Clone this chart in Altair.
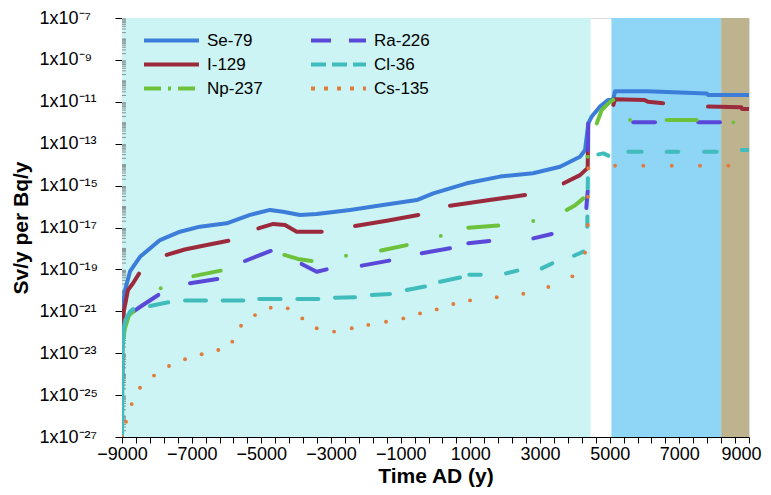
import altair as alt
import pandas as pd

# ---------------- data ----------------
SERIES = ["Se-79", "I-129", "Np-237", "Ra-226", "Cl-36", "Cs-135"]  # legend order (column-major, 2 columns)
COLORS = ["#3b7dd8", "#9b2a3c", "#6cc23a", "#5a48d8", "#41bcbc", "#e07b3c"]
DASHES = [[1, 0], [1, 0], [17, 7, 3, 7], [20, 18], [15, 6], [4, 9]]
DRAW_ORDER = ["Se-79", "I-129", "Ra-226", "Np-237", "Cl-36"]

# (year AD, log10 dose factor) segments
se79 = [[(-9000, -23.0), (-8995, -22.0), (-8990, -21.0), (-8914, -20.0), (-8770, -19.1), (-8483, -18.4),
         (-7909, -17.6), (-7335, -17.2), (-6761, -16.96), (-5994, -16.8), (-5325, -16.4), (-4751, -16.16),
         (-4378, -16.25), (-3890, -16.4), (-3410, -16.36), (-2452, -16.16), (-1507, -15.93), (-539, -15.69),
         (-63, -15.37), (896, -14.89), (1852, -14.57), (2800, -14.41), (3575, -14.1), (4149, -13.62),
         (4293, -13.3), (4388, -12.03), (4485, -11.7), (4723, -11.23), (4953, -10.91), (5097, -10.9),
         (5154, -10.5), (6064, -10.5), (7787, -10.6), (7824, -10.67), (9000, -10.67)]]

i129 = [[(-9000, -25.6), (-8990, -22.5), (-8960, -21.1), (-8828, -19.98), (-8684, -19.66), (-8511, -19.2)],
        [(-7717, -18.31), (-7200, -18.05), (-6600, -17.85), (-5948, -17.63)],
        [(-5087, -17.04), (-4656, -16.83), (-4320, -16.88), (-3984, -17.2), (-3267, -17.2)],
        [(-2310, -16.93), (-1400, -16.68), (-493, -16.4)],
        [(417, -15.96), (1500, -15.7), (2570, -15.45)],
        [(3680, -14.89), (4149, -14.5), (4340, -14.2), (4370, -14.17), (4375, -13.1)],
        [(5106, -11.15), (5154, -10.88), (6000, -10.91), (6100, -11.0), (6536, -11.07)],
        [(7824, -11.23), (8780, -11.26), (8800, -11.34), (9000, -11.34)]]

ra226 = [[(-9000, -26.3), (-8996, -25.5)],
         [(-8992, -24.1), (-8988, -23.5)],
         [(-8676, -21.02), (-8400, -20.7), (-7958, -20.22)],
         [(-7048, -19.66), (-6264, -19.46)],
         [(-5469, -18.6), (-5100, -18.35), (-4731, -18.12)],
         [(-3844, -18.74), (-3410, -19.11), (-3124, -19.0)],
         [(-2118, -18.82), (-1326, -18.58)],
         [(-396, -18.23), (417, -17.99)],
         [(942, -17.75), (1545, -17.64)],
         [(2808, -17.52), (3336, -17.31)],
         [(4330, -16.07), (4370, -15.25)],
         [(4378, -13.3), (4385, -12.03)],
         [(5678, -11.98), (6302, -11.98)],
         [(7546, -11.98), (8167, -11.98)]]

np237 = [[(-8960, -22.3), (-8914, -21.8), (-8800, -21.2), (-8676, -21.0)],
         [(-6953, -19.32), (-6166, -19.06)],
         [(-4340, -18.31), (-3950, -18.5), (-3557, -18.6)],
         [(-1564, -18.1), (-826, -17.84)],
         [(942, -17.01), (1803, -16.91)],
         [(3767, -16.16), (4000, -15.95), (4244, -15.61)],
         [(4629, -12.03), (4772, -11.39), (5010, -11.0), (5106, -10.91)],
         [(6637, -11.87), (7498, -11.87)]]
np237_dots = [(-7889, -19.9), (-2569, -18.35), (150, -17.4), (2808, -16.69),
              (4370, -13.62), (5585, -11.87), (8550, -11.98)]

cl36 = [[(-9000, -27.0), (-8985, -22.8), (-8950, -21.8), (-8900, -21.4), (-8760, -21.0), (-8680, -20.9)],
        [(-8196, -20.75), (-7671, -20.57)],
        [(-7191, -20.49), (-6588, -20.49)],
        [(-6109, -20.49), (-5518, -20.49)],
        [(-5061, -20.41), (-4447, -20.41)],
        [(-3967, -20.41), (-3364, -20.41)],
        [(-2885, -20.35), (-2310, -20.33)],
        [(-1831, -20.22), (-1306, -20.17)],
        [(-826, -19.98), (-301, -19.82)],
        [(130, -19.59), (704, -19.39)],
        [(971, -19.25), (1298, -19.25)],
        [(2025, -19.19), (2350, -19.06)],
        [(3049, -18.95), (3353, -18.71)],
        [(3977, -18.35), (4244, -18.15)],
        [(4355, -16.96), (4360, -16.48)],
        [(4370, -15.13), (4375, -14.65)],
        [(4675, -13.51), (4818, -13.46), (4962, -13.57)],
        [(5536, -13.38), (5921, -13.38)],
        [(6637, -13.38), (6970, -13.38)],
        [(7709, -13.38), (8073, -13.38)],
        [(8791, -13.3), (9000, -13.3)]]

cs135_dots = [(-9000, -27.0), (-8885, -26.27), (-8722, -25.43), (-8483, -24.65), (-8081, -24.07),
              (-7651, -23.61), (-7191, -23.29), (-6712, -23.05), (-6235, -22.85), (-5833, -22.45),
              (-5583, -21.69), (-5182, -21.18), (-4731, -20.83), (-4243, -20.86), (-3824, -21.34),
              (-3410, -21.81), (-2913, -21.97), (-2405, -21.81), (-1929, -21.65), (-1421, -21.5),
              (-924, -21.34), (-444, -21.1), (35, -20.91), (512, -20.65), (991, -20.48),
              (1758, -20.33), (2521, -20.16), (3239, -19.84), (3928, -19.33), (4293, -18.2),
              (4370, -16.88), (4375, -15.53), (4388, -14.17), (5154, -14.05), (5966, -14.05),
              (6782, -14.05), (7594, -14.05), (8407, -14.05)]

# background periods
band_start = [-9000, 5050, 8200]
band_end = [4450, 8200, 9000]
band_color = ["#cdf4f4", "#8fd5f5", "#bdb38f"]

# axis ticks
x_tick_step = 400
x_label_step = 2000
y_label_exps = [-7, -9, -11, -13, -15, -17, -19, -21, -23, -25, -27]
y_label_text = ["1x10⁻⁷", "1x10⁻⁹", "1x10⁻¹¹", "1x10⁻¹³", "1x10⁻¹⁵", "1x10⁻¹⁷",
                "1x10⁻¹⁹", "1x10⁻²¹", "1x10⁻²³", "1x10⁻²⁵", "1x10⁻²⁷"]
y_minor_mult = [2, 3, 4, 5, 6, 7, 8, 9, 10, 20, 30, 40, 50, 60, 70, 80, 90]

# ---------------- build tables ----------------
line_src = {"Se-79": se79, "I-129": i129, "Ra-226": ra226, "Np-237": np237, "Cl-36": cl36}
rows = []
for rank, name in enumerate(DRAW_ORDER):
    for si, seg in enumerate(line_src[name]):
        for pi, (t, e) in enumerate(seg):
            rows.append({"series": name, "key": f"{rank}_{name}_{si}", "t": t, "v": 10.0 ** e,
                         "idx": pi, "rank": rank})
lines_df = pd.DataFrame(rows)

dot_rows = [{"series": "Np-237", "t": t, "v": 10.0 ** e} for t, e in np237_dots]
dot_rows += [{"series": "Cs-135", "t": t, "v": 10.0 ** e} for t, e in cs135_dots]
dots_df = pd.DataFrame(dot_rows)

bands_df = pd.DataFrame({"start": band_start, "end": band_end, "color": band_color})

minor_df = pd.DataFrame({"v": [k * 10.0 ** e for e in y_label_exps[1:] for k in y_minor_mult]})

W, H = 627, 419
FONT = "Liberation Sans"

xvals = list(range(-9000, 9001, x_tick_step))
yvals = [10.0 ** e for e in y_label_exps]
label_expr = "''"
for e, txt in zip(y_label_exps, y_label_text):
    label_expr = f"round(log(datum.value)/LN10) == {e} ? '{txt}' : ({label_expr})"

x_enc = alt.X("t:Q", scale=alt.Scale(domain=[-9000, 9000], nice=False, zero=False),
              axis=alt.Axis(values=xvals, tickCount=200,
                            labelExpr=f"(datum.value + 9000) % {x_label_step} == 0 ? format(datum.value, 'd') : ''",
                            labelOffset={"condition": {"test": "datum.value == 9000", "value": -8}, "value": 0},
                            title="Time AD (y)", grid=False, tickSize=6, tickColor="black", domainColor="black",
                            labelFont=FONT, labelFontSize=18, labelColor="black", labelPadding=2,
                            labelOverlap=False, labelFlush=False,
                            titleFont=FONT, titleFontSize=21, titleFontWeight="bold", titleColor="black",
                            titlePadding=2))
y_enc = alt.Y("v:Q", scale=alt.Scale(type="log", domain=[1e-27, 1e-7], nice=False),
              axis=alt.Axis(values=yvals, tickCount=200, labelExpr=label_expr, title="Sv/y per Bq/y", grid=False,
                            tickSize=7, tickColor="black", domainColor="black",
                            labelFont=FONT, labelFontSize=18, labelColor="black", labelAlign="left",
                            labelPadding=76, labelOverlap=False, labelFlush=False,
                            titleFont=FONT, titleFontSize=21, titleFontWeight="bold", titleColor="black",
                            titlePadding=8))

color_scale = alt.Scale(domain=SERIES, range=COLORS)

legend_cfg = dict(title=None, orient="none", legendX=20, legendY=14, columns=2, symbolType="stroke",
                  symbolSize=3025, symbolStrokeWidth=4, labelFont=FONT, labelFontSize=17,
                  labelColor="black", labelOffset=6, clipHeight=17, rowPadding=6, columnPadding=46)

bands = alt.Chart(bands_df).mark_rect().encode(
    x=alt.X("start:Q", scale=alt.Scale(domain=[-9000, 9000], nice=False)),
    x2="end:Q",
    y=alt.value(0), y2=alt.value(H),
    color=alt.Color("color:N", scale=None),
)

legend_layer = alt.Chart(lines_df).transform_filter("false").mark_line(strokeWidth=4).encode(
    x=x_enc, y=y_enc,
    color=alt.Color("series:N", scale=color_scale, legend=alt.Legend(**legend_cfg)),
    strokeDash=alt.StrokeDash("series:N", scale=alt.Scale(domain=SERIES, range=DASHES),
                              legend=alt.Legend(**legend_cfg)),
)

minor_ticks = alt.Chart(minor_df).mark_rule(color="#555555", strokeWidth=0.6).encode(
    x=alt.value(0), x2=alt.value(4), y="v:Q",
)

lines = alt.Chart(lines_df).mark_line(strokeWidth=4, strokeCap="round", strokeJoin="round", clip=True).encode(
    x="t:Q", y="v:Q",
    color=alt.Color("series:N", scale=color_scale),
    detail="key:N",
    order="idx:Q",
)

dots = alt.Chart(dots_df).mark_circle(size=15, opacity=1, clip=True).encode(
    x="t:Q", y="v:Q",
    color=alt.Color("series:N", scale=color_scale),
)

chart = alt.layer(bands, legend_layer, minor_ticks, lines, dots).properties(
    width=W, height=H,
    autosize=alt.AutoSizeParams(type="none"),
    padding={"left": 114, "top": 10, "right": 14, "bottom": 50},
).configure_view(stroke="#999999", strokeWidth=1).configure(background="white")

chart.save("out.html", embed_options={"renderer": "svg", "actions": False})
